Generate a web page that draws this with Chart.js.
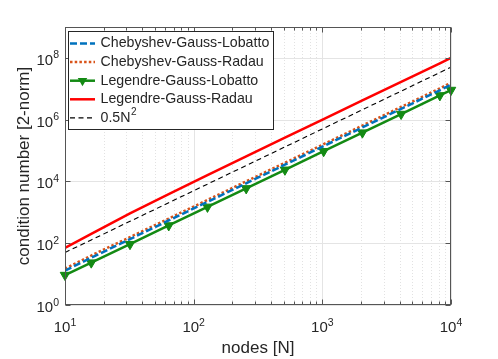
<!DOCTYPE html>
<html>
<head>
<meta charset="utf-8">
<script src="https://cdn.jsdelivr.net/npm/chart.js@4.4.1/dist/chart.umd.min.js"></script>
<style>
  html, body { margin: 0; padding: 0; background: #fff; }
</style>
</head>
<body>
<canvas id="chartCond" width="498" height="359"></canvas>
<script>
const nodes = [10, 16, 32, 64, 128, 256, 512, 1024, 2048, 4096, 8192, 10000]
const chebLobatto = [13, 34, 136, 545, 2180, 8720, 34900, 140000, 560000, 2240000, 8950000, 13500000]
const chebRadau = [15, 40, 158, 630, 2520, 10100, 40300, 161000, 645000, 2580000, 10300000, 15800000]
const legLobatto = [9.3, 23.5, 93, 375, 1500, 5950, 23800, 95000, 380000, 1520000, 6100000, 9100000]
const legRadau = [70, 200, 930, 3900, 16000, 65000, 260000, 1050000, 4200000, 16800000, 67000000, 100000000]
const halfN2 = [50, 128, 512, 2048, 8192, 32768, 131072, 524288, 2097152, 8388608, 33554432, 50000000]

const xTicks = [10, 100, 1000, 10000]
const yTicks = [1, 1e2, 1e4, 1e6, 1e8]

const fontFam = '"Liberation Sans", Arial, Helvetica, sans-serif'
const axisColor = '#555555'

const pts = (vals) => nodes.map((n, i) => ({ x: n, y: vals[i] }))

// "10" with a raised exponent, like matlab tick labels
const powLabel = (ctx, v, x, y, align) => {
  const e = String(Math.round(Math.log10(v)))
  ctx.font = '15px ' + fontFam
  const wb = ctx.measureText('10').width
  ctx.font = '10.5px ' + fontFam
  const we = ctx.measureText(e).width
  let left = x
  if (align === 'center') left = x - (wb + we) / 2
  if (align === 'right') left = x - (wb + we)
  ctx.textAlign = 'left'
  ctx.textBaseline = 'alphabetic'
  ctx.font = '15px ' + fontFam
  ctx.fillText('10', left, y)
  ctx.font = '10.5px ' + fontFam
  ctx.fillText(e, left + wb, y - 6.5)
}

const matlabAxes = {
  id: 'matlabAxes',
  beforeDatasetsDraw (chart) {
    const { ctx, chartArea: a, scales: { x, y } } = chart
    ctx.save()
    ctx.lineWidth = 1
    ctx.strokeStyle = '#e2e2e2'
    ctx.setLineDash([1, 2])
    for (let d = 10; d < 10000; d *= 10) {
      for (let k = 2; k <= 9; k++) {
        const px = Math.round(x.getPixelForValue(k * d)) + 0.5
        ctx.beginPath()
        ctx.moveTo(px, a.top)
        ctx.lineTo(px, a.bottom)
        ctx.stroke()
      }
    }
    ctx.setLineDash([])
    ctx.strokeStyle = '#e4e4e4'
    xTicks.forEach(v => {
      const px = Math.round(x.getPixelForValue(v)) + 0.5
      ctx.beginPath()
      ctx.moveTo(px, a.top)
      ctx.lineTo(px, a.bottom)
      ctx.stroke()
    })
    yTicks.forEach(v => {
      const py = Math.round(y.getPixelForValue(v)) + 0.5
      ctx.beginPath()
      ctx.moveTo(a.left, py)
      ctx.lineTo(a.right, py)
      ctx.stroke()
    })
    ctx.restore()
  },
  afterDraw (chart) {
    const { ctx, chartArea: a, scales: { x, y } } = chart
    ctx.save()
    ctx.lineWidth = 1
    ctx.strokeStyle = axisColor
    ctx.setLineDash([])
    const L = Math.round(a.left) + 0.5
    const R = Math.round(a.right) - 0.5
    const T = Math.round(a.top) + 0.5
    const B = Math.round(a.bottom) - 0.5
    ctx.strokeRect(L, T, R - L, B - T)

    // tick marks, inside the box
    ctx.beginPath()
    for (let d = 10; d < 10000; d *= 10) {
      for (let k = 2; k <= 9; k++) {
        const px = Math.round(x.getPixelForValue(k * d)) + 0.5
        ctx.moveTo(px, B); ctx.lineTo(px, B - 3)
        ctx.moveTo(px, T); ctx.lineTo(px, T + 3)
      }
    }
    xTicks.forEach(v => {
      const px = Math.round(x.getPixelForValue(v)) + 0.5
      ctx.moveTo(px, B); ctx.lineTo(px, B - 5)
      ctx.moveTo(px, T); ctx.lineTo(px, T + 5)
    })
    yTicks.forEach(v => {
      const py = Math.round(y.getPixelForValue(v)) + 0.5
      ctx.moveTo(L, py); ctx.lineTo(L + 5, py)
      ctx.moveTo(R, py); ctx.lineTo(R - 5, py)
    })
    ctx.stroke()

    ctx.fillStyle = '#262626'
    xTicks.forEach(v => powLabel(ctx, v, x.getPixelForValue(v), 332, 'center'))
    yTicks.forEach(v => powLabel(ctx, v, 59, y.getPixelForValue(v) + 7, 'right'))

    ctx.font = '17px ' + fontFam
    ctx.textAlign = 'center'
    ctx.textBaseline = 'alphabetic'
    ctx.fillText('nodes [N]', (a.left + a.right) / 2, 353)
    ctx.save()
    ctx.translate(29, (a.top + a.bottom) / 2)
    ctx.rotate(-Math.PI / 2)
    ctx.fillText('condition number [2-norm]', 0, 0)
    ctx.restore()

    // legend
    const bx = 68.5, by = 31.5, bw = 205, bh = 98
    ctx.fillStyle = '#ffffff'
    ctx.fillRect(bx, by, bw, bh)
    ctx.strokeStyle = '#262626'
    ctx.strokeRect(bx, by, bw, bh)
    chart.data.datasets.forEach((ds, i) => {
      const ly = 43.5 + i * 18.6
      ctx.save()
      ctx.strokeStyle = ds.borderColor
      ctx.lineWidth = ds.borderWidth
      ctx.setLineDash(ds.borderDash || [])
      ctx.beginPath()
      ctx.moveTo(70, ly)
      ctx.lineTo(95, ly)
      ctx.stroke()
      ctx.restore()
      if (ds.pointRadius > 0) {
        ctx.fillStyle = ds.pointBackgroundColor
        const r = ds.pointRadius
        ctx.beginPath()
        ctx.moveTo(82.5, ly + r)
        ctx.lineTo(82.5 - r * 0.866, ly - r / 2)
        ctx.lineTo(82.5 + r * 0.866, ly - r / 2)
        ctx.closePath()
        ctx.fill()
      }
      ctx.fillStyle = '#262626'
      ctx.font = '14.2px ' + fontFam
      ctx.textAlign = 'left'
      ctx.textBaseline = 'middle'
      if (ds.label === '0.5N^2') {
        ctx.fillText('0.5N', 100.5, ly)
        const w = ctx.measureText('0.5N').width
        ctx.font = '10px ' + fontFam
        ctx.fillText('2', 100.5 + w + 0.5, ly - 6)
      } else {
        ctx.fillText(ds.label, 100.5, ly)
      }
    })
    ctx.restore()
  }
}

const ctx = document.getElementById('chartCond')
new Chart(ctx, {
  type: 'line',
  data: {
    datasets: [{
      label: 'Chebyshev-Gauss-Lobatto',
      data: pts(chebLobatto),
      borderColor: '#0072BD',
      borderWidth: 2.5,
      borderDash: [7, 3],
      pointRadius: 0
    }, {
      label: 'Chebyshev-Gauss-Radau',
      data: pts(chebRadau),
      borderColor: '#D95319',
      borderWidth: 2.5,
      borderDash: [2.5, 2.2],
      pointRadius: 0
    }, {
      label: 'Legendre-Gauss-Lobatto',
      data: pts(legLobatto),
      borderColor: '#138a13',
      borderWidth: 2.5,
      pointStyle: 'triangle',
      pointRotation: 180,
      pointRadius: 5.5,
      pointBackgroundColor: '#138a13',
      pointBorderColor: '#138a13',
      pointBorderWidth: 1,
      clip: false
    }, {
      label: 'Legendre-Gauss-Radau',
      data: pts(legRadau),
      borderColor: '#ff0000',
      borderWidth: 2.5,
      pointRadius: 0
    }, {
      label: '0.5N^2',
      data: pts(halfN2),
      borderColor: '#000000',
      borderWidth: 1.1,
      borderDash: [5, 3.5],
      pointRadius: 0
    }]
  },
  options: {
    responsive: false,
    devicePixelRatio: 1,
    animation: false,
    layout: { padding: { left: 65, right: 47, top: 27, bottom: 54 } },
    plugins: { legend: { display: false }, tooltip: { enabled: false } },
    elements: { line: { tension: 0 } },
    scales: {
      x: { type: 'logarithmic', min: 10, max: 10000, display: false },
      y: { type: 'logarithmic', min: 1, max: 1e9, display: false }
    }
  },
  plugins: [matlabAxes]
})
</script>
</body>
</html>
